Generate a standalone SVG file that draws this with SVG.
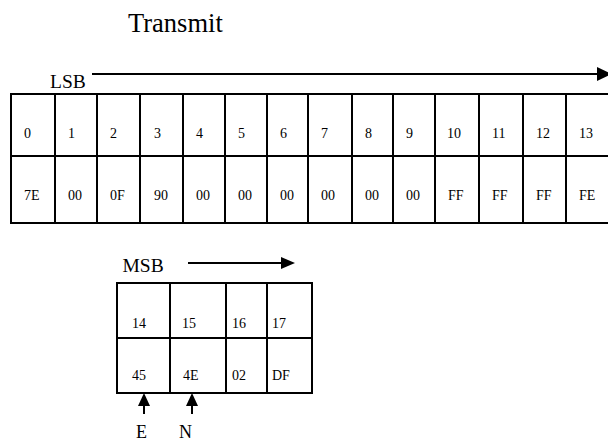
<svg xmlns="http://www.w3.org/2000/svg" width="608" height="446" viewBox="0 0 608 446">
<style>
  text { font-family: "Liberation Serif", "Times New Roman", serif; fill: #000; }
  .cell { font-size: 14px; }
  .lbl { font-size: 19.5px; }
  .grid { fill: none; stroke: #000; stroke-width: 2; }
  .conn { stroke: #000; stroke-width: 2; fill: none; }
  .head { fill: #000; stroke: none; }
</style>
<rect width="608" height="446" fill="#fff"/>
<text id="title" x="128" y="32" style="font-size:26.5px">Transmit</text>

<g id="lsb-label"><text class="lbl" x="50" y="88">LSB</text></g>
<g id="msb-label"><text class="lbl" x="122.5" y="272">MSB</text></g>
<g id="e-label"><text x="136" y="438" style="font-size:18px">E</text></g>
<g id="n-label"><text x="179" y="438" style="font-size:18px">N</text></g>

<g id="lsb-table">
  <path class="grid" d="M11,94 H612 M11,156 H612 M11,223 H612 M11,93 V224 M55,94 V223 M97,94 V223 M140,94 V223 M183,94 V223 M225,94 V223 M267,94 V223 M308,94 V223 M352,94 V223 M393,94 V223 M435,94 V223 M479,94 V223 M523,94 V223 M566,94 V223"/>
  <g id="cell-0" class="cell"><text x="24" y="138">0</text><text x="24" y="200">7E</text></g>
  <g id="cell-1" class="cell"><text x="68" y="138">1</text><text x="68" y="200">00</text></g>
  <g id="cell-2" class="cell"><text x="110" y="138">2</text><text x="110" y="200">0F</text></g>
  <g id="cell-3" class="cell"><text x="154" y="138">3</text><text x="154" y="200">90</text></g>
  <g id="cell-4" class="cell"><text x="196" y="138">4</text><text x="196" y="200">00</text></g>
  <g id="cell-5" class="cell"><text x="238" y="138">5</text><text x="238" y="200">00</text></g>
  <g id="cell-6" class="cell"><text x="280" y="138">6</text><text x="280" y="200">00</text></g>
  <g id="cell-7" class="cell"><text x="321" y="138">7</text><text x="321" y="200">00</text></g>
  <g id="cell-8" class="cell"><text x="365" y="138">8</text><text x="365" y="200">00</text></g>
  <g id="cell-9" class="cell"><text x="406" y="138">9</text><text x="406" y="200">00</text></g>
  <g id="cell-10" class="cell"><text x="447" y="138">10</text><text x="448" y="200">FF</text></g>
  <g id="cell-11" class="cell"><text x="492" y="138">11</text><text x="492" y="200">FF</text></g>
  <g id="cell-12" class="cell"><text x="536" y="138">12</text><text x="536" y="200">FF</text></g>
  <g id="cell-13" class="cell"><text x="579" y="138">13</text><text x="579" y="200">FE</text></g>
</g>

<g id="msb-table">
  <path class="grid" d="M117,283 H312 M117,338 H312 M117,393 H312 M117,282 V394 M170,283 V393 M226,283 V393 M267,283 V393 M312,282 V394"/>
  <g id="cell-14" class="cell"><text x="132" y="328">14</text><text x="132" y="380">45</text></g>
  <g id="cell-15" class="cell"><text x="182" y="328">15</text><text x="183" y="380">4E</text></g>
  <g id="cell-16" class="cell"><text x="232" y="328">16</text><text x="232" y="380">02</text></g>
  <g id="cell-17" class="cell"><text x="272" y="328">17</text><text x="272" y="380">DF</text></g>
</g>

<g id="connectors">
  <line class="conn" x1="92" y1="74" x2="598" y2="74"/>
  <polygon class="head" points="597,67 612,74 597,81"/>
  <line class="conn" x1="188" y1="263" x2="283" y2="263"/>
  <polygon class="head" points="281,257 295,263 281,269"/>
  <line class="conn" x1="144" y1="404" x2="144" y2="414"/>
  <polygon class="head" points="138,406 144,393 150,406"/>
  <line class="conn" x1="192" y1="404" x2="192" y2="414"/>
  <polygon class="head" points="186,406 192,393 198,406"/>
</g>
</svg>
